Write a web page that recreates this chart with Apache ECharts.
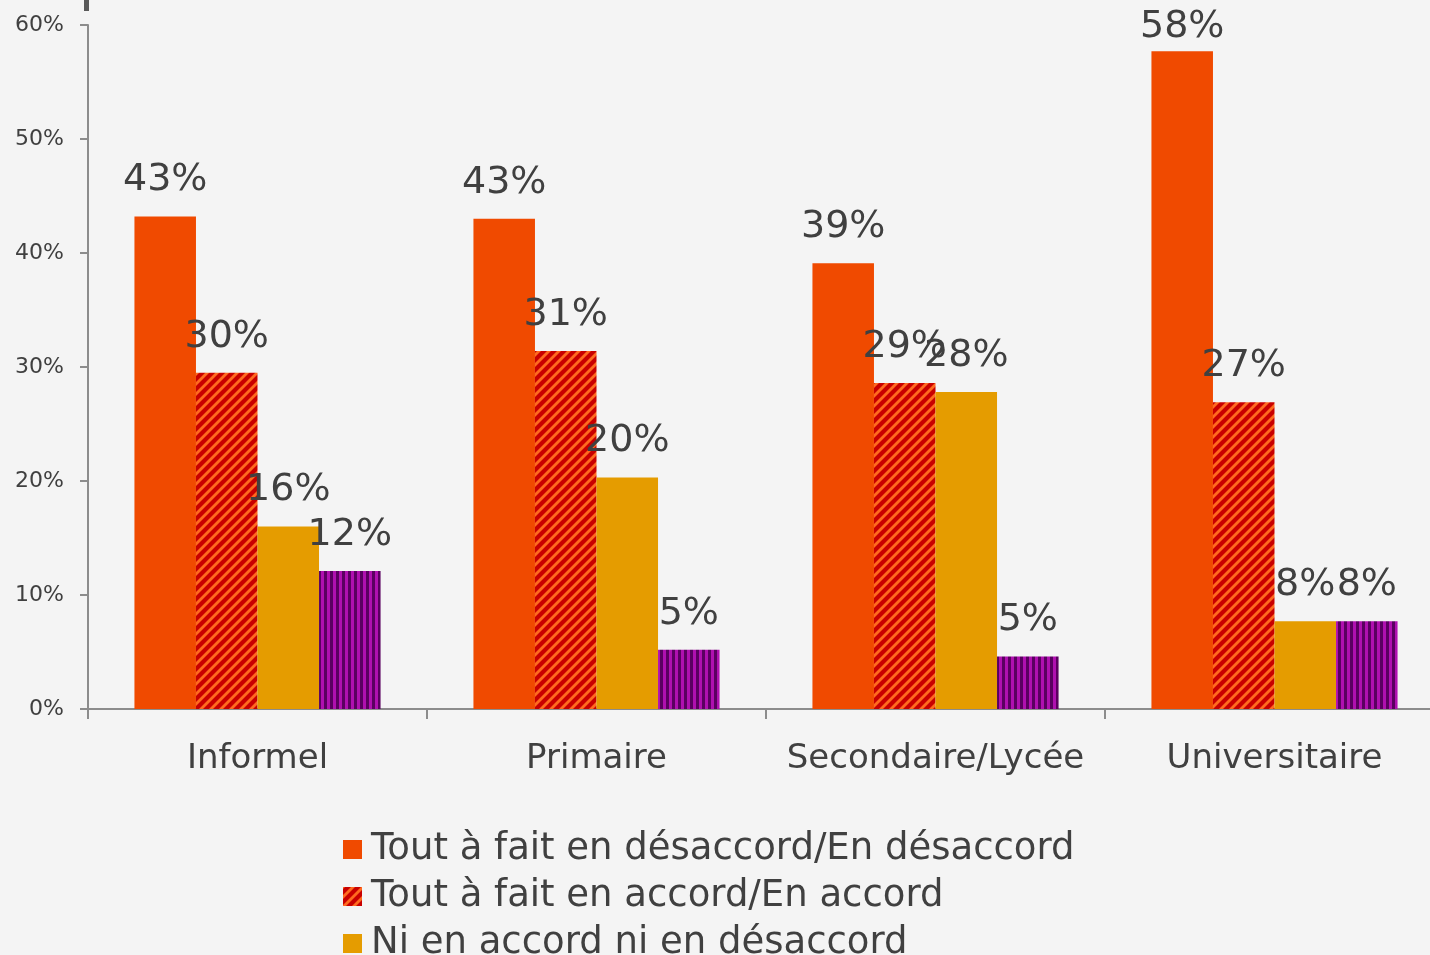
<!DOCTYPE html>
<html>
<head>
<meta charset="utf-8">
<script src="https://cdn.jsdelivr.net/npm/echarts@6/dist/echarts.min.js"></script>
<style>
  html, body { margin: 0; padding: 0; background: #f4f4f4; }
  #chart { width: 1430px; height: 955px; }
</style>
</head>
<body>
<div id="chart"></div>
<script>
// data
var categories = ['Informel', 'Primaire', 'Secondaire/Lycée', 'Universitaire'];
var seriesNames = [
  'Tout à fait en désaccord/En désaccord',
  'Tout à fait en accord/En accord',
  'Ni en accord ni en désaccord',
  'Ne sait pas'
];
var desaccord = [43.2, 43.0, 39.1, 57.7];
var accord = [29.5, 31.4, 28.6, 26.9];
var neutre = [16.0, 20.3, 27.8, 7.7];
var nsp = [12.1, 5.2, 4.6, 7.7];
var yTicks = [0, 10, 20, 30, 40, 50, 60];

var FONT = '"DejaVu Sans", sans-serif';
var TXT = '#404040';

// pattern fills
function diagPattern() {
  var s = 10;
  var c = document.createElement('canvas');
  c.width = s; c.height = s;
  var g = c.getContext('2d');
  g.fillStyle = '#c80000';
  g.fillRect(0, 0, s, s);
  g.strokeStyle = '#ff6a1f';
  g.lineWidth = 2.8;
  [[-s, s, s, -s], [0, s, s, 0], [0, 2 * s, 2 * s, 0]].forEach(function (l) {
    g.beginPath(); g.moveTo(l[0], l[1]); g.lineTo(l[2], l[3]); g.stroke();
  });
  return { image: c, repeat: 'repeat' };
}
function vertPattern() {
  var c = document.createElement('canvas');
  c.width = 6; c.height = 6;
  var g = c.getContext('2d');
  g.fillStyle = '#b010b0';
  g.fillRect(0, 0, 6, 6);
  g.fillStyle = '#5a0060';
  g.fillRect(0, 0, 3, 6);
  return { image: c, repeat: 'repeat' };
}

var colors = ['#f04a00', diagPattern(), '#e59c00', vertPattern()];
var values = [desaccord, accord, neutre, nsp];

var chart = echarts.init(document.getElementById('chart'));
chart.setOption({
  backgroundColor: '#f4f4f4',
  animation: false,
  textStyle: { fontFamily: FONT, color: TXT },
  grid: { left: 88, top: 25, height: 684, width: 1356, outerBoundsMode: 'none' },
  graphic: [{ type: 'rect', shape: { x: 84, y: 0, width: 5, height: 11 }, style: { fill: '#595959' } }],
  legend: {
    orient: 'vertical',
    left: 338,
    top: 826,
    height: 300,
    itemWidth: 19,
    itemHeight: 19,
    itemGap: 10,
    icon: 'rect',
    textStyle: { fontFamily: FONT, fontSize: 37, color: TXT, padding: [0, 0, 0, 4] },
    data: seriesNames
  },
  xAxis: {
    type: 'category',
    data: categories,
    axisLine: { lineStyle: { color: '#8c8c8c', width: 2 } },
    axisTick: { show: true, length: 10, lineStyle: { color: '#8c8c8c', width: 2 } },
    axisLabel: { interval: 0, fontFamily: FONT, fontSize: 34, color: TXT, margin: 33 }
  },
  yAxis: {
    type: 'value',
    min: yTicks[0],
    max: yTicks[yTicks.length - 1],
    interval: 10,
    axisLine: { show: true, lineStyle: { color: '#8c8c8c', width: 2 } },
    axisTick: { show: true, length: 8, lineStyle: { color: '#8c8c8c', width: 2 } },
    splitLine: { show: false },
    axisLabel: { fontFamily: FONT, fontSize: 22, color: TXT, margin: 24, formatter: '{value}%' }
  },
  series: values.map(function (v, i) {
    return {
      name: seriesNames[i],
      type: 'bar',
      // labels near the top of the plot get pushed down against the bar
      data: v.map(function (val) {
        return val > 55 ? { value: val, label: { distance: 5 } } : val;
      }),
      barGap: '0%',
      barCategoryGap: '27.4%',
      itemStyle: { color: colors[i] },
      label: {
        show: true,
        position: 'top',
        distance: 17,
        fontFamily: FONT,
        fontSize: 38,
        color: TXT,
        formatter: function (p) { return Math.round(p.value) + '%'; }
      }
    };
  })
});
</script>
</body>
</html>
